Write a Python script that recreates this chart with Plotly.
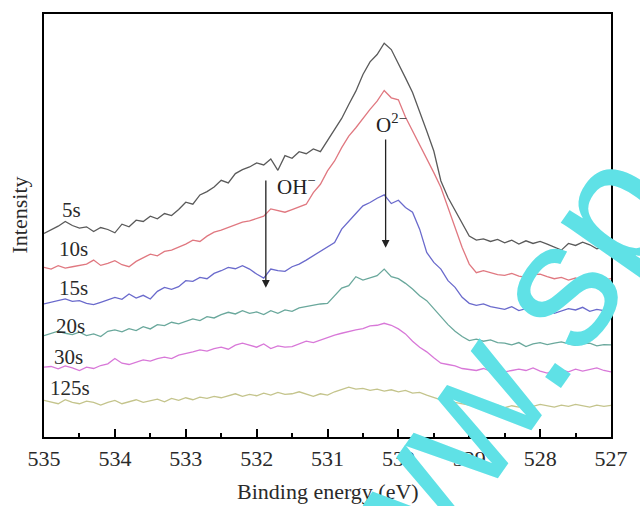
import plotly.graph_objects as go

# Binding energy grid (eV), 535 -> 527 in 0.1 eV steps
energy = [round(535.0 - 0.1 * i, 1) for i in range(81)]

series_names = ["5s", "10s", "15s", "20s", "30s", "125s"]

s5 = [612, 622, 634, 648, 636, 628, 632, 618, 630, 624,
      614, 640, 632, 652, 648, 664, 656, 672, 666, 684,
      706, 700, 728, 738, 752, 772, 764, 792, 804, 812,
      824, 818, 836, 802, 846, 838, 858, 852, 866, 858,
      892, 928, 958, 1000, 1040, 1090, 1128, 1150, 1184, 1165,
      1120, 1080, 1036, 975, 920, 860, 770, 720, 680, 640,
      604, 592, 596, 588, 594, 584, 592, 580, 590, 582,
      588, 580, 570, 562, 582, 576, 586, 578, 566, 572, 584]

s10 = [510, 505, 515, 508, 512, 515, 520, 532, 516, 522,
       530, 518, 512, 528, 540, 550, 545, 558, 562, 570,
       580, 592, 588, 604, 616, 622, 630, 638, 646, 650,
       656, 664, 686, 680, 676, 684, 692, 700, 735, 760,
       800, 830, 870, 905, 930, 958, 985, 1010, 1042, 1020,
       1014, 962, 920, 880, 840, 795, 750, 690, 628, 570,
       520, 494, 500, 494, 488, 486, 492, 484, 480, 488,
       490, 482, 476, 480, 472, 478, 470, 476, 480, 472, 476]

s15 = [400, 405, 410, 415, 408, 410, 402, 398, 405, 412,
       420, 414, 430, 418, 426, 415, 438, 450, 444, 452,
       470, 468, 480, 476, 492, 500, 510, 506, 515, 505,
       490, 478, 505, 500, 498, 512, 520, 532, 545, 560,
       572, 585, 625, 650, 672, 695, 705, 718, 728, 702,
       712, 690, 676, 625, 555, 525, 505, 470, 450, 420,
       402, 396, 400, 392, 388, 384, 392, 380, 386, 378,
       390, 384, 372, 380, 386, 382, 390, 378, 384, 380, 380]

s20 = [305, 312, 318, 312, 308, 315, 305, 310, 302, 318,
       322, 316, 326, 320, 332, 325, 338, 335, 345, 340,
       348, 355, 350, 362, 358, 368, 375, 370, 380, 372,
       376, 368, 380, 372, 382, 378, 388, 392, 398, 400,
       402, 425, 448, 455, 482, 472, 478, 485, 505, 482,
       476, 462, 445, 425, 410, 385, 360, 338, 318, 302,
       290, 294, 288, 292, 284, 282, 277, 284, 272, 280,
       284, 278, 282, 286, 280, 276, 280, 282, 274, 278, 277]

s30 = [210, 212, 205, 214, 208, 200, 210, 206, 215, 220,
       236, 222, 218, 226, 232, 228, 236, 240, 236, 246,
       250, 256, 262, 258, 266, 270, 264, 276, 282, 276,
       270, 280, 266, 274, 270, 272, 280, 288, 284, 292,
       298, 306, 312, 318, 322, 326, 334, 336, 342, 336,
       325, 310, 288, 270, 256, 238, 222, 218, 214, 206,
       204, 200, 206, 198, 210, 196, 200, 204, 200, 208,
       198, 192, 200, 202, 196, 204, 198, 202, 208, 200, 196]

s125 = [110, 106, 100, 112, 104, 100, 108, 104, 96, 104,
        110, 100, 106, 112, 104, 110, 114, 106, 116, 110,
        118, 112, 120, 116, 122, 118, 124, 130, 122, 128,
        124, 132, 126, 134, 128, 130, 136, 128, 122, 130,
        126, 136, 142, 150, 144, 146, 140, 144, 138, 142,
        136, 140, 132, 134, 126, 118, 112, 108, 104, 100,
        96, 100, 94, 90, 96, 88, 94, 90, 96, 92,
        98, 94, 90, 96, 92, 98, 94, 90, 96, 92, 95]

series_values = [s5, s10, s15, s20, s30, s125]
colors = ["#5a5a5a", "#e07880", "#6a6acc", "#6aa89c", "#d878d8", "#c4c48c"]

# curve label anchor points (eV, intensity)
label_x = [534.61, 534.59, 534.59, 534.62, 534.66, 534.64]
label_y = [683, 566, 449, 335, 242, 146]

tick_vals = [535, 534, 533, 532, 531, 530, 529, 528, 527]
tick_text = ["535", "534", "533", "532", "531", "530", "529", "528", "527"]

SERIF = "Liberation Serif, Times New Roman, serif"

fig = go.Figure()
for name, vals, col in zip(series_names, series_values, colors):
    fig.add_trace(go.Scatter(x=energy, y=vals, mode="lines", name=name,
                             line=dict(color=col, width=1.3), showlegend=False))

annotations = []
for name, lx, ly in zip(series_names, label_x, label_y):
    annotations.append(dict(x=lx, y=ly, xref="x", yref="y", text=name, showarrow=False,
                            xanchor="center", yanchor="middle",
                            font=dict(family=SERIF, size=21, color="#2a2a2a")))

# arrows
annotations.append(dict(x=531.87, y=449, ax=531.87, ay=776, xref="x", yref="y",
                        axref="x", ayref="y", text="", showarrow=True,
                        arrowhead=2, arrowsize=1.2, arrowwidth=1.3, arrowcolor="#222"))
annotations.append(dict(x=530.18, y=569, ax=530.18, ay=899, xref="x", yref="y",
                        axref="x", ayref="y", text="", showarrow=True,
                        arrowhead=2, arrowsize=1.2, arrowwidth=1.3, arrowcolor="#222"))
annotations.append(dict(x=531.44, y=755, xref="x", yref="y", text="OH<sup>−</sup>",
                        showarrow=False, xanchor="center", yanchor="middle",
                        font=dict(family=SERIF, size=21, color="#222")))
annotations.append(dict(x=530.10, y=944, xref="x", yref="y", text="O<sup>2−</sup>",
                        showarrow=False, xanchor="center", yanchor="middle",
                        font=dict(family=SERIF, size=21, color="#222")))

# axis titles
annotations.append(dict(x=0.5, y=-0.1297, xref="paper", yref="paper", text="Binding energy (eV)",
                        showarrow=False, xanchor="center", yanchor="middle",
                        font=dict(family=SERIF, size=22, color="#2a2a2a")))
annotations.append(dict(x=-0.0424, y=0.526, xref="paper", yref="paper", text="Intensity",
                        textangle=-90, showarrow=False, xanchor="center", yanchor="middle",
                        font=dict(family=SERIF, size=22, color="#2a2a2a")))

# watermark
annotations.append(dict(x=0.733, y=0.033, xref="paper", yref="paper", text="www.sp",
                        textangle=-55, showarrow=False, xanchor="center", yanchor="middle",
                        font=dict(family="Liberation Sans, Arial, sans-serif", size=180,
                                  color="rgb(95,225,230)")))

fig.update_layout(
    width=640, height=506,
    margin=dict(l=44, r=18, t=13, b=69),
    paper_bgcolor="white", plot_bgcolor="white",
    annotations=annotations,
    xaxis=dict(range=[535, 527], tickvals=tick_vals, ticktext=tick_text,
               ticks="inside", ticklen=8, tickwidth=1.8, tickcolor="black",
               minor=dict(ticks="inside", ticklen=4, tickwidth=1.8, tickcolor="black", dtick=0.5),
               showline=True, linecolor="black", linewidth=2.2, mirror=True,
               showgrid=False, zeroline=False,
               tickfont=dict(family=SERIF, size=22, color="#2a2a2a")),
    yaxis=dict(range=[0, 1272], showticklabels=False, ticks="",
               showline=True, linecolor="black", linewidth=2.2, mirror=True,
               showgrid=False, zeroline=False),
)

fig.write_html("out.html")
